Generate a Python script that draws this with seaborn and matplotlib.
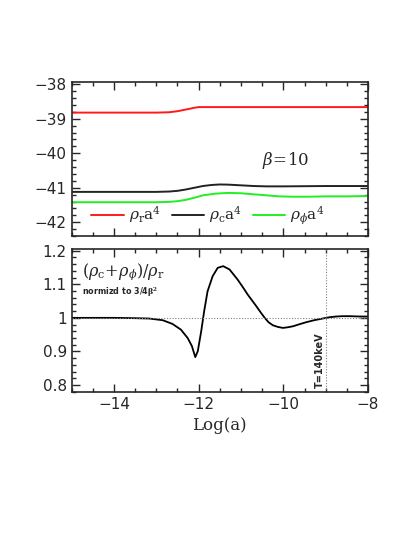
import matplotlib
matplotlib.use("Agg")
import matplotlib.pyplot as plt
from matplotlib.ticker import MultipleLocator
import seaborn as sns

# top panel: log energy densities times a^4
red_x = [-15, -13.0, -12.7, -12.5, -12.3, -12.1, -12.0, -8]
red_y = [-38.82, -38.82, -38.81, -38.78, -38.73, -38.68, -38.66, -38.66]

blk_x = [-15, -13, -12.7, -12.5, -12.3, -12.1, -11.9, -11.7, -11.5, -11.3,
         -11.0, -10.7, -10.4, -10.0, -9.5, -9, -8]
blk_y = [-41.12, -41.12, -41.11, -41.09, -41.05, -41.0, -40.95, -40.92, -40.905,
         -40.91, -40.93, -40.95, -40.96, -40.96, -40.955, -40.95, -40.95]

grn_x = [-15, -13, -12.7, -12.5, -12.3, -12.1, -11.9, -11.6, -11.3, -11.0,
         -10.7, -10.4, -10.1, -9.8, -9.4, -9, -8.5, -8]
grn_y = [-41.42, -41.42, -41.41, -41.39, -41.35, -41.29, -41.22, -41.17, -41.15,
         -41.16, -41.19, -41.22, -41.25, -41.26, -41.26, -41.25, -41.25, -41.24]

# bottom panel: (rho_c + rho_phi)/rho_r normalised
rat_x = [-15, -14, -13.5, -13.17, -12.85, -12.62, -12.42, -12.26, -12.16, -12.08,
         -12.02, -11.94, -11.87, -11.79, -11.67, -11.55, -11.42, -11.27, -11.08,
         -10.96, -10.84, -10.74, -10.64, -10.54, -10.44, -10.35, -10.25, -10.13,
         -10.01, -9.89, -9.77, -9.62, -9.46, -9.27, -9.07, -8.9, -8.75, -8.6,
         -8.43, -8.2, -8]
rat_y = [1.0, 1.0, 0.999, 0.998, 0.993, 0.982, 0.965, 0.940, 0.916, 0.883,
         0.901, 0.960, 1.020, 1.079, 1.124, 1.149, 1.154, 1.144, 1.114,
         1.092, 1.069, 1.052, 1.035, 1.017, 1.0, 0.987, 0.978, 0.973,
         0.970, 0.972, 0.975, 0.981, 0.987, 0.993, 0.998, 1.002, 1.004, 1.005,
         1.005, 1.004, 1.004]

sns.set_theme(style="ticks")
plt.rcParams["font.family"] = ["DejaVu Sans"]
plt.rcParams["mathtext.fontset"] = "dejavuserif"

fig = plt.figure(figsize=(4.14, 5.36), dpi=100)
ax1 = fig.add_axes([0.173, 0.5597, 0.716, 0.2868])
ax2 = fig.add_axes([0.173, 0.2692, 0.716, 0.2662])

sns.lineplot(x=red_x, y=red_y, ax=ax1, color="#ff1a1a", lw=1.4, label=r"$\rho_{\rm r}{\rm a}^4$")
sns.lineplot(x=blk_x, y=blk_y, ax=ax1, color="#222222", lw=1.4, label=r"$\rho_{\rm c}{\rm a}^4$")
sns.lineplot(x=grn_x, y=grn_y, ax=ax1, color="#22ee22", lw=1.4, label=r"$\rho_{\phi}{\rm a}^4$")
ax1.legend(loc="lower center", ncol=3, frameon=False, fontsize=11, handlelength=2.1,
           columnspacing=0.7, handletextpad=0.35, bbox_to_anchor=(0.46, -0.03))
ax1.text(-10.5, -40.2, r"$\beta\!=\!10$", fontsize=12, va="center")
ax1.set_xlim(-15, -8)
ax1.set_ylim(-42.4, -37.94)
ax1.yaxis.set_major_locator(MultipleLocator(1))
ax1.yaxis.set_minor_locator(MultipleLocator(0.2))
ax1.set_xticklabels([])

sns.lineplot(x=rat_x, y=rat_y, ax=ax2, color="black", lw=1.3)
ax2.axhline(1.0, color="gray", lw=0.8, ls=(0, (1, 1.5)))
ax2.axvline(-9.0, color="gray", lw=0.8, ls=(0, (1, 1.5)))
ax2.text(-14.75, 1.128, r"$(\rho_{\rm c}\!+\!\rho_{\phi})/\rho_{\rm r}$", fontsize=11.5, va="baseline")
ax2.text(-14.75, 1.098, r"normizd to 3/4$\mathbf{\beta^2}$", fontsize=5.8, fontweight="bold", va="top")
ax2.text(-9.13, 0.79, "T=140keV", rotation=90, fontsize=7, fontweight="bold", ha="center", va="bottom")
ax2.set_xlim(-15, -8)
ax2.set_ylim(0.78, 1.205)
ax2.yaxis.set_major_locator(MultipleLocator(0.1))
ax2.yaxis.set_minor_locator(MultipleLocator(0.02))
ax2.set_yticks([0.8, 0.9, 1.0, 1.1, 1.2])
ax2.set_yticklabels(["0.8", "0.9", "1", "1.1", "1.2"])
ax2.set_xlabel("Log(a)", fontsize=12, family="DejaVu Serif")

for ax in (ax1, ax2):
    ax.xaxis.set_major_locator(MultipleLocator(2))
    ax.xaxis.set_minor_locator(MultipleLocator(0.5))
    ax.tick_params(which="both", direction="in", top=True, right=True, width=1.0, labelsize=11)
    ax.tick_params(which="major", length=6)
    ax.tick_params(which="minor", length=3)
    for s in ax.spines.values():
        s.set_linewidth(1.2)

fig.savefig("out.png", dpi=100)
